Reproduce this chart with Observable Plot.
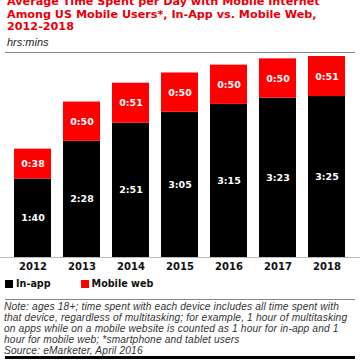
<!DOCTYPE html>
<html>
<head>
<meta charset="utf-8">
<script src="https://cdn.jsdelivr.net/npm/d3@7"></script>
<script src="https://cdn.jsdelivr.net/npm/@observablehq/plot@0.6"></script>
<style>
  html, body { margin: 0; padding: 0; background: #fff; }
  body { width: 360px; height: 360px; overflow: hidden; position: relative; font-family: "Liberation Sans", Arial, sans-serif; }
  #title { position: absolute; left: 7px; top: -4px; color: #e8000b; font-family: "DejaVu Sans", sans-serif; font-weight: bold; font-size: 11.2px; line-height: 12.5px; white-space: nowrap; }
  #sub { position: absolute; left: 7px; top: 36px; font-style: italic; font-size: 11px; color: #222; }
  .rule { position: absolute; left: 5px; width: 350px; height: 1px; background: #888; }
  #chart { position: absolute; left: 0; top: 50px; }
  #legend { position: absolute; left: 5px; top: 278px; font-family: "DejaVu Sans", sans-serif; font-weight: bold; font-size: 9.6px; color: #111; display: flex; align-items: center; }
  #legend .item { display: flex; align-items: center; }
  #legend .sw { width: 8px; height: 8px; display: inline-block; margin-right: 3px; }
  #note { position: absolute; left: 4px; top: 301px; font-family: "Liberation Sans", sans-serif; font-style: italic; font-size: 10.2px; line-height: 11.1px; letter-spacing: 0.15px; color: #333; white-space: nowrap; }
  #bottom { position: absolute; left: 5px; top: 356px; width: 350px; height: 3px; background: #000; }
</style>
</head>
<body>
<div id="title">Average Time Spent per Day with Mobile Internet<br>Among US Mobile Users*, In-App vs. Mobile Web,<br>2012-2018</div>
<div id="sub">hrs:mins</div>
<div class="rule" style="top:52px"></div>
<div id="chart"></div>
<div id="legend"></div>
<div class="rule" style="top:299px"></div>
<div id="note">Note: ages 18+; time spent with each device includes all time spent with<br>that device, regardless of multitasking; for example, 1 hour of multitasking<br>on apps while on a mobile website is counted as 1 hour for in-app and 1<br>hour for mobile web; *smartphone and tablet users<br>Source: eMarketer, April 2016</div>
<div id="bottom"></div>
<script>
const years = ["2012", "2013", "2014", "2015", "2016", "2017", "2018"];
const series = ["In-app", "Mobile web"];
const colors = ["#000000", "#ff0000"];
// minutes per day
const inApp = [100, 148, 171, 185, 195, 203, 205];
const mobileWeb = [38, 50, 51, 50, 50, 50, 51];

const fmt = m => `${Math.floor(m / 60)}:${String(m % 60).padStart(2, "0")}`;

const data = [];
years.forEach((y, i) => data.push({year: y, series: series[0], value: inApp[i]}));
years.forEach((y, i) => data.push({year: y, series: series[1], value: mobileWeb[i]}));

const chart = Plot.plot({
  width: 360,
  height: 225,
  marginLeft: 0,
  marginRight: 0,
  marginTop: 6,
  marginBottom: 18,
  style: {fontFamily: "DejaVu Sans, sans-serif", background: "transparent"},
  x: {domain: years, padding: 0.235, label: null, tickSize: 0, tickPadding: 4},
  y: {domain: [0, 256], axis: null},
  color: {domain: series, range: colors},
  marks: [
    Plot.barY(data, Plot.stackY({x: "year", y: "value", fill: "series"})),
    Plot.ruleY([0], {stroke: "#bbb", strokeWidth: 1}),
    Plot.text(data, Plot.stackY({x: "year", y: "value", z: "series", text: d => fmt(d.value), fill: "white", fontWeight: "bold", fontSize: 9.5})),
    Plot.axisX({tickSize: 0, tickPadding: 5, fontSize: 10, fontWeight: "bold", fill: "#111", label: null})
  ]
});
document.getElementById("chart").appendChild(chart);

const legend = document.getElementById("legend");
series.forEach((s, i) => {
  const item = document.createElement("span");
  item.className = "item";
  item.style.marginRight = i === 0 ? "30px" : "0";
  const sw = document.createElement("span");
  sw.className = "sw";
  sw.style.background = colors[i];
  item.appendChild(sw);
  item.appendChild(document.createTextNode(s));
  legend.appendChild(item);
});
</script>
</body>
</html>
